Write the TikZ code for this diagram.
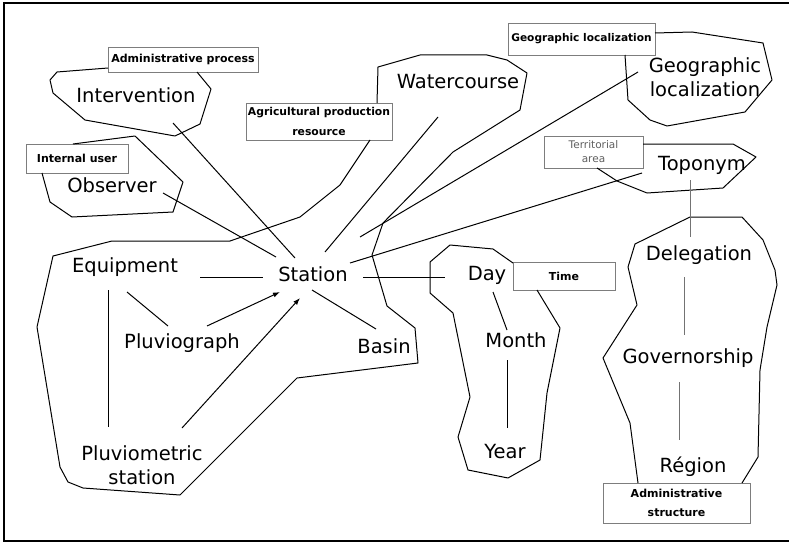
\documentclass[tikz,border=0pt]{standalone}
\usepackage{fontspec}
\setmainfont{DejaVu Sans}
\usetikzlibrary{calc,arrows.meta}
\definecolor{boxgray}{RGB}{125,125,125}
\definecolor{linkgray}{RGB}{115,115,115}
\definecolor{textgray}{RGB}{95,95,95}
\begin{document}
\begin{tikzpicture}[x=1pt,y=-1pt,
  lbl/.style={inner sep=0pt,align=center,font=\fontsize{19.5}{24}\selectfont},
  tag/.style={draw=boxgray,line width=0.8pt,inner sep=0pt,align=center,
              font=\fontsize{11}{18.5}\selectfont\bfseries},
  outline/.style={line width=1pt,line join=round},
  conn/.style={line width=1pt},
  softconn/.style={line width=1pt,draw=linkgray},
  arr/.style={line width=1pt,-{Latex[length=7pt,width=5pt]}}]
\useasboundingbox (0,0) rectangle (789,543);

% frame
\draw[line width=1.2pt] (789,3) -- (4,3) -- (4,541) -- (789,541);

% tag boxes
\node[tag,minimum width=150pt,minimum height=25pt] (tadmproc) at (183,59.5) {Administrative process};
\node[tag,minimum width=102pt,minimum height=29pt] (tintuser) at (77,158.5) {Internal user};
\node[tag,minimum width=146pt,minimum height=37pt,font=\fontsize{10.8}{19.5}\selectfont\bfseries] (tagri) at (319,121.5) {Agricultural production\\resource};
\node[tag,minimum width=147pt,minimum height=32pt,font=\fontsize{10.6}{18}\selectfont\bfseries] (tgeo) at (581.5,39) {Geographic localization};
\node[tag,minimum width=99pt,minimum height=32pt,font=\fontsize{10.5}{14}\selectfont,text=textgray] (tterr) at (593.5,152) {Territorial\\area};
\node[tag,minimum width=102pt,minimum height=28pt] (ttime) at (564,276) {Time};
\node[tag,minimum width=147pt,minimum height=40pt] (tadmstr) at (676.5,503) {Administrative\\structure};

% grouping outlines
\draw[outline] (197,72) -- (211,89) -- (200,124) -- (175,136) -- (85,120) -- (53,93)
  -- (50,80) -- (57,72) -- (108,68);
\draw[outline] (42,173) -- (50,202) -- (72,217) -- (173,212) -- (183,182) -- (135,136) -- (73,144);
\draw[outline] (370,140) -- (340,185) -- (300,217) -- (230,241) -- (112,241) -- (53,256)
  -- (37,327) -- (60,467) -- (68,482) -- (83,488) -- (180,495) -- (297,378) -- (418,363)
  -- (415,328) -- (387,306) -- (372,255) -- (383,223) -- (453,152) -- (520,110) -- (527,73)
  -- (507,60) -- (487,55) -- (420,55) -- (378,67) -- (377,103);
\draw[outline] (655,33) -- (692,32) -- (763,43) -- (772,80) -- (745,112) -- (667,126)
  -- (650,120) -- (628,100) -- (625,55);
\draw[outline] (643,144) -- (733,144) -- (756,157) -- (723,188) -- (647,193) -- (617,181) -- (597,168);
\draw[outline] (513,263) -- (493,249) -- (450,245) -- (430,262) -- (430,293) -- (453,313)
  -- (470,397) -- (458,437) -- (468,470) -- (508,478) -- (540,460) -- (547,393) -- (560,328) -- (537,290);
\draw[outline] (638,483) -- (630,423) -- (603,358) -- (637,305) -- (628,267) -- (635,244)
  -- (690,217) -- (742,217) -- (763,240) -- (775,270) -- (777,285) -- (767,327) -- (760,370)
  -- (758,457) -- (742,483);

% concepts
\node[lbl] (station) at (313,274) {Station};
\node[lbl] (interv) at (136,95) {Intervention};
\node[lbl] (observer) at (112,185) {Observer};
\node[lbl] (water) at (458,82) {Watercourse};
\node[lbl] (geo) at (705,77) {Geographic\\localization};
\node[lbl] (topo) at (702,165) {Toponym};
\node[lbl] (equip) at (125,267) {Equipment};
\node[lbl] (pluvio) at (182,343) {Pluviograph};
\node[lbl] (pstation) at (142,465) {Pluviometric\\station};
\node[lbl] (basin) at (384,346) {Basin};
\node[lbl] (day) at (487,275) {Day};
\node[lbl] (month) at (516,340) {Month};
\node[lbl] (year) at (505,452) {Year};
\node[lbl] (deleg) at (699,255) {Delegation};
\node[lbl] (gov) at (688,358) {Governorship};
\node[lbl] (region) at (693,467) {Région};

% links around the station
\draw[conn] ($(interv)+(37,28)$) -- ($(station)+(-18,-16)$);
\draw[conn] ($(observer)+(51,8)$) -- ($(station)+(-37,-17)$);
\draw[conn] ($(water)+(-20,35)$) -- ($(station)+(12,-22)$);
\draw[conn] ($(geo)+(-67,-5)$) -- ($(station)+(47,-37)$);
\draw[conn] ($(topo)+(-60,8)$) -- ($(station)+(37,-11)$);
\draw[conn] ($(station)+(50,3)$) -- ($(day)+(-42,2)$);
\draw[conn] ($(station)+(-1,16)$) -- ($(basin)+(-8,-17)$);
\draw[conn] ($(equip)+(75,10)$) -- ($(station)+(-50,3)$);
\draw[arr] ($(pluvio)+(25,-17)$) -- ($(station)+(-33,18)$);
\draw[arr] ($(pstation)+(40,-37)$) -- ($(station)+(-13,24)$);

% equipment links
\draw[conn] ($(equip)+(2,25)$) -- ($(pluvio)+(-14,-17)$);
\draw[conn] ($(equip)+(-17,23)$) -- ($(pstation)+(-34,-38)$);

% time links
\draw[conn] ($(day)+(6,17)$) -- ($(month)+(-9,-10)$);
\draw[conn] ($(month)+(-9,20)$) -- ($(year)+(2,-24)$);

% administrative links
\draw[softconn] ($(topo)+(-12,15)$) -- ($(deleg)+(-9,-18)$);
\draw[softconn] ($(deleg)+(-15,22)$) -- ($(gov)+(-4,-23)$);
\draw[softconn] ($(gov)+(-9,24)$) -- ($(region)+(-14,-27)$);
\end{tikzpicture}
\end{document}
